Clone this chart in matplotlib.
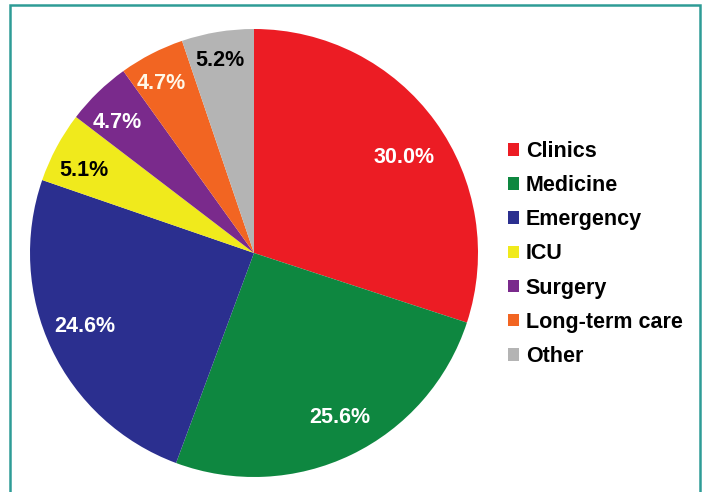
import matplotlib
matplotlib.use("Agg")
import matplotlib.pyplot as plt
from matplotlib.patches import Patch, Rectangle
import numpy as np

categories = ["Clinics", "Medicine", "Emergency", "ICU", "Surgery", "Long-term care", "Other"]
values = [30.0, 25.6, 24.6, 5.1, 4.7, 4.7, 5.2]
pct_labels = ["30.0%", "25.6%", "24.6%", "5.1%", "4.7%", "4.7%", "5.2%"]

colors = ["#EC1C24", "#0E8740", "#2B2F8F", "#F0EA1C", "#7A2A8C", "#F26522", "#B4B4B4"]
label_colors = ["white", "white", "white", "black", "white", "#FFF8E8", "black"]
label_radius = [0.80, 0.82, 0.82, 0.85, 0.85, 0.87, 0.885]
label_angle_shift = [-2.7, 2.1, -2.5, 1.6, 1.6, 1.1, 0.5]

plt.rcParams['font.family'] = ['Liberation Sans', 'DejaVu Sans']

fig = plt.figure(figsize=(7.04, 4.92), dpi=100)
fig.patch.set_facecolor("white")

ax = fig.add_axes([30/704, 1 - 477/492, 448/704, 448/492])
wedges, _ = ax.pie(values, colors=colors, startangle=90, counterclock=False,
                   radius=1.0, wedgeprops=dict(linewidth=0))
ax.set_xlim(-1, 1)
ax.set_ylim(-1, 1)
ax.set_aspect("equal")
ax.axis("off")

for w, lab, c, r, s in zip(wedges, pct_labels, label_colors, label_radius, label_angle_shift):
    ang = np.deg2rad((w.theta1 + w.theta2) / 2 + s)
    ax.annotate(lab, (r * np.cos(ang), r * np.sin(ang)), xytext=(0, -1.8),
                textcoords="offset points", ha="center", va="center",
                fontsize=15.5, fontweight="bold", color=c)

handles = [Patch(facecolor=c, edgecolor="none") for c in colors]
leg = fig.legend(handles, categories, loc="center left",
                 bbox_to_anchor=(508/704, 1 - 254/492),
                 frameon=False, prop=dict(size=15.5, weight="bold"),
                 handlelength=0.52, handleheight=0.52, handletextpad=0.3,
                 labelspacing=0.61, borderaxespad=0, borderpad=0)

border = Rectangle((10/704, -0.05), 690/704, 1.05 - 5/492, transform=fig.transFigure,
                   fill=False, edgecolor="#2E9C96", linewidth=1.8)
fig.add_artist(border)

fig.savefig("out.png", dpi=100)
